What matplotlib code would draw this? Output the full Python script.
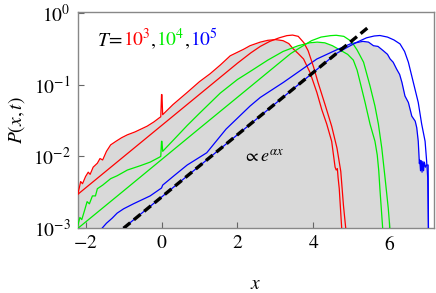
import numpy as np
import matplotlib
matplotlib.use("Agg")
import matplotlib.pyplot as plt

plt.rcParams['font.family'] = ['Liberation Serif', 'DejaVu Serif']
plt.rcParams['mathtext.fontset'] = 'stix'

# ---- data (x, log10 P) ----
# T = 10^3
red_sim_x = [-2.21, -2.17, -2.13, -2.08, -2.0, -1.93, -1.88, -1.8, -1.69, -1.62, -1.55, -1.45,
             -1.34, -1.2, -1.05, -0.9, -0.7, -0.5, -0.38, -0.2, -0.05, -0.02, 0.0, 0.01, 0.03,
             0.3, 0.676, 1.0, 1.28, 1.545, 1.81, 2.16, 2.33, 2.6, 2.8, 3.0, 3.2, 3.35, 3.47,
             3.6, 3.74, 3.91, 4.09, 4.22, 4.35, 4.48, 4.57, 4.6, 4.63, 4.65, 4.68, 4.75]
red_sim_lg = [-2.53, -2.45, -2.35, -2.38, -2.28, -2.22, -2.25, -2.15, -2.095, -2.03, -2.05, -1.93,
              -1.84, -1.79, -1.74, -1.70, -1.66, -1.61, -1.58, -1.52, -1.46, -1.45, -1.14, -1.14, -1.42,
              -1.28, -1.11, -0.96, -0.85, -0.73, -0.60, -0.51, -0.46, -0.41, -0.385, -0.375, -0.39, -0.43, -0.505,
              -0.57, -0.645, -0.833, -1.11, -1.35, -1.55, -1.79, -2.15, -2.19, -2.17, -2.3, -2.45, -3.05]
red_th_x = [-2.21, -1.0, 0.0, 1.0, 2.0, 2.35, 2.6, 2.85, 3.1, 3.3, 3.45, 3.6, 3.75, 3.86, 4.0,
            4.12, 4.3, 4.48, 4.62, 4.72, 4.79, 4.86]
red_th_lg = [-2.53, -2.005, -1.571, -1.137, -0.703, -0.56, -0.47, -0.40, -0.35, -0.32, -0.312, -0.33,
             -0.42, -0.53, -0.75, -0.97, -1.27, -1.58, -1.885, -2.21, -2.68, -3.05]

# T = 10^4
grn_sim_x = [-2.21, -2.15, -2.1, -2.02, -1.96, -1.9, -1.82, -1.74, -1.69, -1.55, -1.34, -1.17,
             -0.9, -0.56, -0.3, -0.05, -0.02, 0.0, 0.01, 0.03, 0.3, 0.676, 1.0, 1.545, 2.0, 2.33,
             2.8, 3.2, 3.6, 3.9, 4.1, 4.3, 4.5, 4.7, 4.9, 5.05, 5.15, 5.23, 5.36, 5.49, 5.62,
             5.68, 5.72, 5.75, 5.79, 5.83]
grn_sim_lg = [-2.97, -2.85, -2.88, -2.74, -2.63, -2.66, -2.55, -2.55, -2.45, -2.40, -2.31, -2.27,
              -2.19, -2.13, -2.08, -2.01, -2.0, -1.79, -1.79, -1.93, -1.78, -1.57, -1.40, -1.12, -0.93, -0.82,
              -0.66, -0.54, -0.46, -0.42, -0.41, -0.42, -0.46, -0.52, -0.58, -0.66, -0.80, -0.97, -1.25, -1.55, -1.79,
              -1.98, -2.2, -2.45, -2.75, -3.05]
grn_th_x = [-2.2, -1.0, 0.0, 1.0, 2.0, 3.0, 3.4, 3.7, 3.95, 4.2, 4.45, 4.6, 4.8, 5.0, 5.15,
            5.32, 5.49, 5.62, 5.71, 5.80, 5.89, 5.97, 6.02]
grn_th_lg = [-3.0, -2.48, -2.045, -1.61, -1.177, -0.743, -0.57, -0.47, -0.39, -0.34, -0.32, -0.315,
             -0.33, -0.40, -0.52, -0.69, -1.02, -1.30, -1.55, -1.885, -2.32, -2.72, -3.05]

# T = 10^5
blu_sim_x = [-1.6, -1.45, -1.3, -1.17, -1.0, -0.74, -0.5, -0.3, 0.0, 0.03, 0.35, 0.676, 1.19,
             1.7, 2.33, 2.6, 3.21, 4.09, 4.6, 4.97, 5.3, 5.45, 5.58, 5.7, 5.84, 5.95, 6.02, 6.1,
             6.19, 6.27, 6.33, 6.41, 6.5, 6.59, 6.68, 6.72, 6.76, 6.79, 6.80, 6.82, 6.84, 6.86,
             6.88, 6.90, 6.92, 6.95, 6.98, 7.02, 7.03]
blu_sim_lg = [-3.02, -2.93, -2.86, -2.79, -2.73, -2.66, -2.6, -2.55, -2.44, -2.40, -2.26, -2.12, -1.95,
              -1.62, -1.30, -1.18, -0.97, -0.645, -0.52, -0.435, -0.40, -0.41, -0.46, -0.47, -0.53, -0.58, -0.645, -0.69,
              -0.785, -0.86, -0.97, -1.16, -1.25, -1.44, -1.51, -1.6, -1.79, -2.1, -2.05, -2.2, -2.06, -2.22,
              -2.07, -2.2, -2.08, -2.15, -2.12, -2.12, -3.1]
blu_th_x = [-1.1, 0.0, 1.0, 2.0, 3.0, 4.0, 4.6, 4.9, 5.15, 5.4, 5.6, 5.75, 5.95, 6.12, 6.28,
            6.40, 6.50, 6.63, 6.76, 6.85, 6.94, 6.98, 7.01, 7.03]
blu_th_lg = [-3.04, -2.566, -2.132, -1.698, -1.264, -0.83, -0.57, -0.48, -0.41, -0.35, -0.325, -0.318,
             -0.34, -0.38, -0.435, -0.54, -0.69, -0.97, -1.25, -1.55, -1.79, -2.06, -2.3, -3.1]

# exponential guide, proportional to e^{alpha x}
guide_x = [-1.0, 5.43]
guide_lg = [-3.0, -0.21]

xticks = [-2, 0, 2, 4, 6]
xticklabels = ['$-2$', '$0$', '$2$', '$4$', '$6$']
yticks = [1e-3, 1e-2, 1e-1, 1]
yticklabels = ['$10^{-3}$', '$10^{-2}$', '$10^{-1}$', '$10^{0}$']

fig = plt.figure(figsize=(4.36, 2.93), dpi=100)
ax = fig.add_axes([0.178, 0.221, 0.817, 0.739])

sims = [(red_sim_x, red_sim_lg, '#ff0000'), (grn_sim_x, grn_sim_lg, '#00ee00'),
        (blu_sim_x, blu_sim_lg, '#0000ff')]
theos = [(red_th_x, red_th_lg, '#ff0000'), (grn_th_x, grn_th_lg, '#00ee00'),
         (blu_th_x, blu_th_lg, '#0000ff')]

for xs, lg, c in sims:
    ax.fill_between(xs, 10 ** np.array(lg), 1e-4, color='#d9d9d9', lw=0, zorder=1)
for xs, lg, c in sims + theos:
    ax.plot(xs, 10 ** np.array(lg), color=c, lw=0.9, zorder=3)

ax.plot(guide_x, 10 ** np.array(guide_lg), color='black', lw=2.4,
        ls=(0, (2.6, 1.4)), zorder=4)

ax.set_yscale('log')
ax.set_xlim(-2.21, 7.17)
ax.set_ylim(1e-3, 1.03)
ax.set_xticks(xticks)
ax.set_xticklabels(xticklabels)
ax.set_yticks(yticks)
ax.set_yticklabels(yticklabels)
ax.yaxis.set_minor_locator(matplotlib.ticker.NullLocator())
ax.tick_params(direction='in', length=4, width=0.8, color='#666666', labelsize=14, pad=5)
for sp in ax.spines.values():
    sp.set_color('#888888')
    sp.set_linewidth(1.0)

ax.set_xlabel('$x$', fontsize=14, labelpad=16)
ax.set_ylabel('$P(x,t)$', fontsize=14, labelpad=4)

ax.text(2.14, 10 ** -2.07, r'$\propto e^{\alpha x}$', fontsize=13, zorder=5)

# coloured legend text
parts = [(r'$T\!=\!$', 'black'), (r'$10^3$', '#ff0000'), (r'$,$', 'black'),
         (r'$10^4$', '#00ee00'), (r'$,$', 'black'), (r'$10^5$', '#0000ff')]
fig.canvas.draw()
xpix = 97
for s, c in parts:
    t = fig.text(xpix / 436, 1 - 46 / 293, s, color=c, fontsize=14, va='baseline')
    fig.canvas.draw()
    bb = t.get_window_extent()
    xpix += bb.width

fig.savefig('out.png', dpi=100)
